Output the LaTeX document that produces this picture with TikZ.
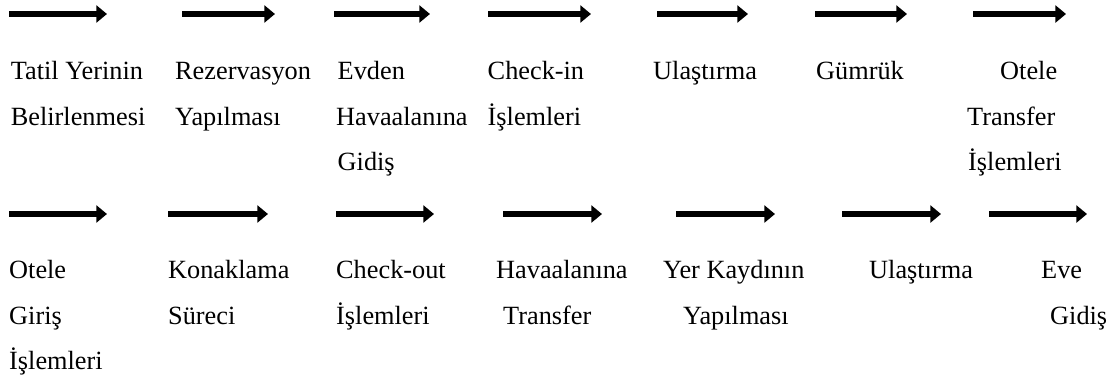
\documentclass[tikz,border=0pt]{standalone}
\usepackage{fontspec}
\setmainfont{Liberation Serif}
\usetikzlibrary{arrows.meta}
\begin{document}
\begin{tikzpicture}[x=1pt,y=-1pt,
  flow/.style={line width=6.5pt,-{Triangle[length=10.7pt,width=17pt]}},
  lbl/.style={anchor=base west,inner sep=0pt,font=\fontsize{26.3}{45.6}\selectfont}]
\useasboundingbox (0,0) rectangle (1115,383);
% top row arrows
\foreach \i/\a/\b in {1/9/107,2/182/275,3/334/430,4/488/591,5/657/748,6/815/907,7/973/1066}{
  \coordinate (ts\i) at (\a,14);
  \coordinate (te\i) at (\b,14);
  \draw[flow] (ts\i) -- (te\i);
}
% bottom row arrows
\foreach \i/\a/\b in {1/9/107,2/168/268,3/336/434,4/503/602,5/676/775,6/842/941,7/989/1087}{
  \coordinate (bs\i) at (\a,214);
  \coordinate (be\i) at (\b,214);
  \draw[flow] (bs\i) -- (be\i);
}
% top row labels
\node[lbl] (t1a) at (10.7,79.3) {Tatil Yerinin};
\node[lbl] (t1b) at (10.7,125) {Belirlenmesi};
\node[lbl] (t2a) at (175,79.3) {Rezervasyon};
\node[lbl] (t2b) at (175,125) {Yapılması};
\node[lbl] (t3a) at (337.5,79.3) {Evden};
\node[lbl] (t3b) at (336,125) {Havaalanına};
\node[lbl] (t3c) at (337.5,170.7) {Gidiş};
\node[lbl] (t4a) at (487.5,79.3) {Check-in};
\node[lbl] (t4b) at (487.5,125) {İşlemleri};
\node[lbl] (t5a) at (653,79.3) {Ulaştırma};
\node[lbl] (t6a) at (816,79.3) {Gümrük};
\node[lbl] (t7a) at (1000,79.3) {Otele};
\node[lbl] (t7b) at (967,125) {Transfer};
\node[lbl] (t7c) at (968,170.7) {İşlemleri};
% bottom row labels
\node[lbl] (b1a) at (9,278.3) {Otele};
\node[lbl] (b1b) at (9,324) {Giriş};
\node[lbl] (b1c) at (9,369.5) {İşlemleri};
\node[lbl] (b2a) at (168,278.3) {Konaklama};
\node[lbl] (b2b) at (168,324) {Süreci};
\node[lbl] (b3a) at (336,278.3) {Check-out};
\node[lbl] (b3b) at (336,324) {İşlemleri};
\node[lbl] (b4a) at (496,278.3) {Havaalanına};
\node[lbl] (b4b) at (503,324) {Transfer};
\node[lbl] (b5a) at (663,278.3) {Yer Kaydının};
\node[lbl] (b5b) at (683,324) {Yapılması};
\node[lbl] (b6a) at (869,278.3) {Ulaştırma};
\node[lbl] (b7a) at (1041,278.3) {Eve};
\node[lbl] (b7b) at (1050,324) {Gidiş};
\end{tikzpicture}
\end{document}
